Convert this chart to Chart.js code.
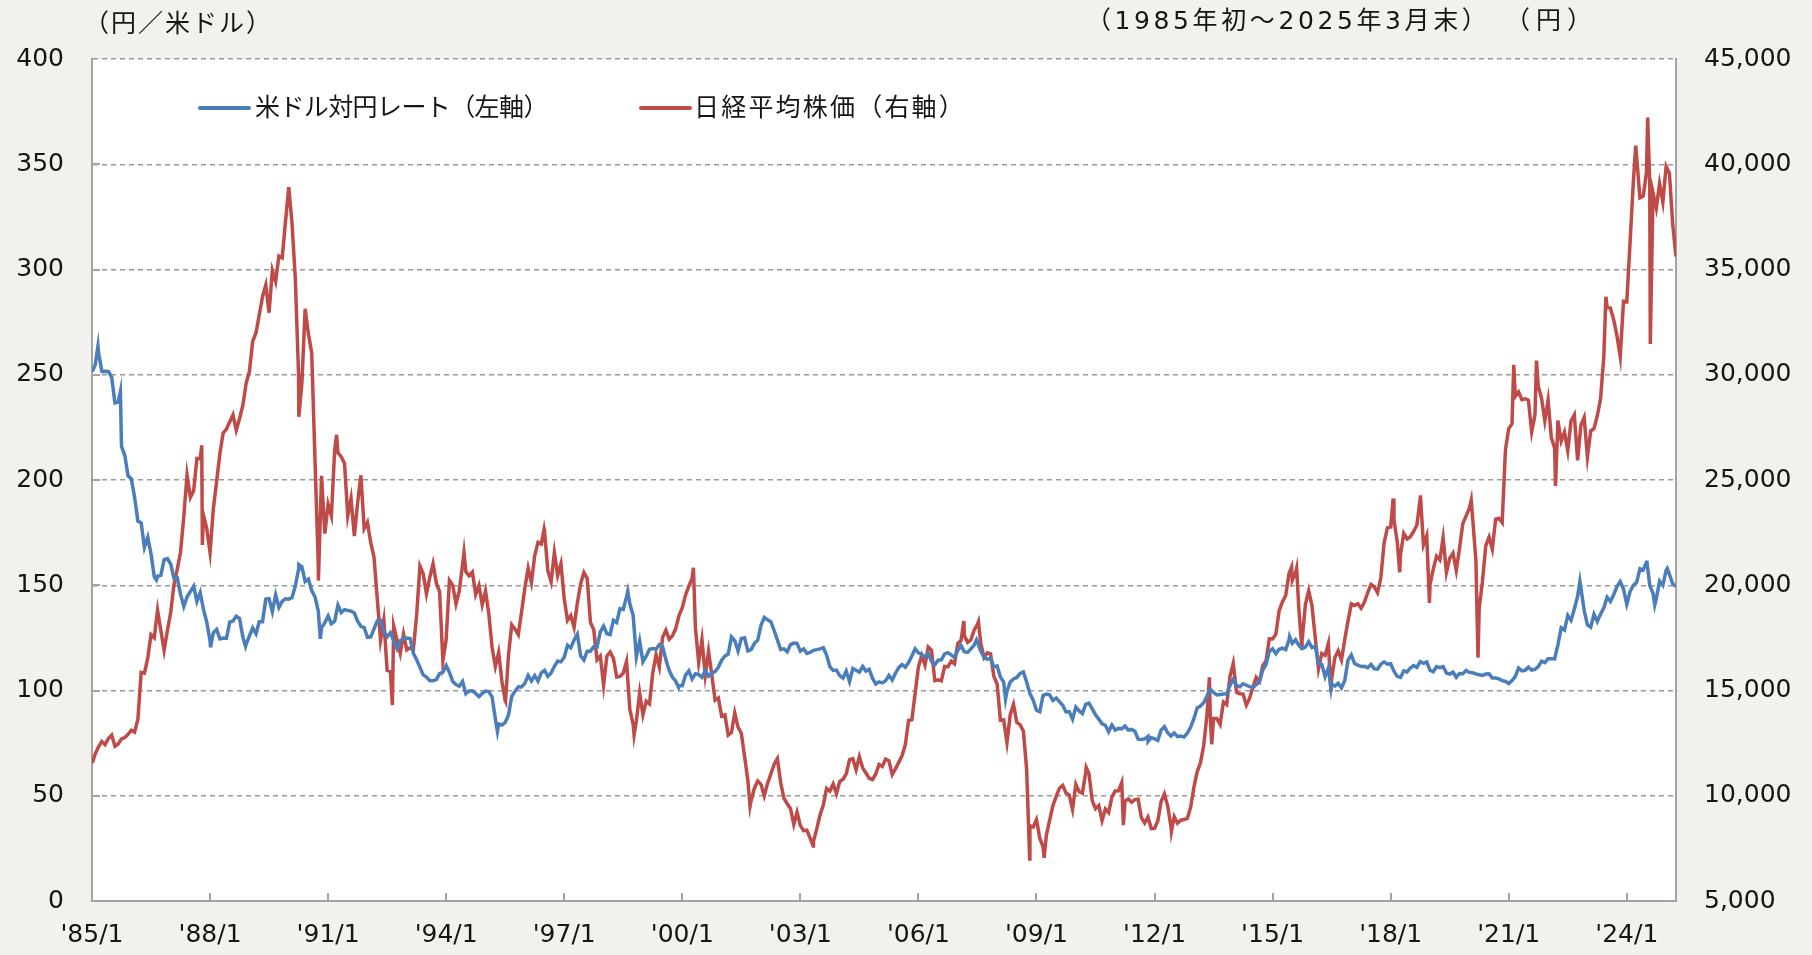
<!DOCTYPE html>
<html lang="ja">
<head>
<meta charset="utf-8">
<script src="https://cdn.jsdelivr.net/npm/chart.js@4.4.1/dist/chart.umd.min.js"></script>
<style>
  html, body { margin: 0; padding: 0; background: #f2f1ed; }
  #wrap { position: relative; width: 1812px; height: 955px; overflow: hidden; }
  #chart { position: absolute; left: 0; top: 0; }
  .txt {
    position: absolute; white-space: nowrap; line-height: 1;
    font-family: "DejaVu Sans", "Noto Sans CJK JP", sans-serif;
    font-size: 25px; color: #151515;
  }
  .sw { position: absolute; height: 4px; border-radius: 2px; }
</style>
</head>
<body>
<div id="wrap">
  <canvas id="chart" width="1812" height="955"></canvas>
  <div class="txt" style="left:84px; top:11px; letter-spacing:2px;">（円／米ドル）</div>
  <div class="txt" style="left:1086px; top:8px; letter-spacing:3.6px;">（1985年初～2025年3月末）</div>
  <div class="txt" style="left:1505px; top:8px; letter-spacing:6px;">（円）</div>
  <div class="sw" style="left:198px; top:106px; width:53px; background:#4a7ebb;"></div>
  <div class="txt" style="left:255px; top:95px; letter-spacing:-0.6px;">米ドル対円レート（左軸）</div>
  <div class="sw" style="left:639px; top:106px; width:53px; background:#be4b48;"></div>
  <div class="txt" style="left:694px; top:95px; letter-spacing:2.2px;">日経平均株価（右軸）</div>
</div>
<script>
// month-end values, 1985/1 .. 2025/3
const usdJpyMonthEnd = [
  254.8,260.5,251.6,251.7,251.6,248.9,236.6,237.1,216.0,211.8,202.0,200.5,
  191.7,180.5,179.6,168.0,172.8,164.9,154.0,154.3,154.7,162.2,162.7,160.1,
  153.4,153.5,145.8,139.9,144.5,147.0,149.6,142.3,146.5,138.5,132.5,123.5,
  127.4,129.0,124.5,124.9,124.8,132.5,133.0,135.3,134.2,125.4,121.9,125.9,
  129.7,127.0,132.7,132.7,143.4,143.6,137.5,145.4,139.4,142.3,143.6,143.4,
  144.2,149.6,157.6,158.8,151.8,152.9,147.5,144.5,137.8,129.8,132.2,135.4,
  131.7,132.9,140.6,137.0,138.4,138.0,137.7,136.8,132.9,130.5,129.9,125.3,
  125.5,129.3,133.1,133.3,127.9,125.5,127.5,123.6,119.9,123.7,124.6,124.9,
  124.7,117.7,114.6,111.0,107.4,106.4,104.6,104.6,105.2,108.0,108.7,111.9,
  108.6,104.3,102.8,102.0,104.3,98.5,99.8,99.9,98.6,97.1,98.6,99.7,
  99.5,97.0,86.5,84.1,83.6,84.8,88.2,97.3,99.7,101.8,101.7,103.4,
  107.2,104.6,107.1,104.5,108.4,109.6,106.7,108.3,111.5,114.0,113.6,115.8,
  121.5,120.3,124.0,126.7,116.5,114.5,118.7,118.7,120.8,120.6,127.8,130.6,
  127.0,126.6,133.3,132.3,138.9,138.5,144.6,141.2,135.8,116.0,123.5,113.6,
  116.3,119.6,119.9,119.6,121.8,120.8,114.6,109.6,106.3,104.4,102.2,102.2,
  107.3,109.4,105.4,108.0,107.6,106.2,109.6,106.8,108.2,109.0,111.0,114.4,
  116.4,117.3,125.5,123.7,118.8,124.7,125.0,118.8,119.4,122.4,123.9,131.0,
  134.7,133.6,132.7,128.5,124.0,119.5,119.8,118.4,121.8,122.5,122.4,118.7,
  119.8,117.6,118.1,119.1,119.4,119.8,120.3,116.8,111.3,109.5,109.7,107.1,
  105.9,109.2,104.2,110.4,109.6,108.7,111.4,109.2,110.1,105.8,103.1,104.1,
  103.6,104.6,107.2,105.0,108.2,110.9,112.3,111.1,113.3,116.4,119.8,117.9,
  117.2,115.9,117.5,113.8,112.2,114.4,114.6,117.4,118.0,116.9,115.7,119.1,
  121.3,118.4,118.1,119.8,121.6,123.2,118.7,115.8,114.8,115.3,111.2,111.7,
  106.4,104.0,99.7,104.0,105.5,106.2,108.1,108.8,104.0,98.5,95.4,90.6,
  89.9,97.6,98.3,98.0,95.3,96.4,94.7,93.0,89.8,90.0,86.4,92.1,
  90.3,89.0,93.4,94.0,91.3,88.5,86.4,84.2,83.5,80.4,83.6,81.2,
  82.0,81.8,83.1,81.2,81.5,80.6,76.9,76.7,77.0,78.2,77.6,77.0,
  76.3,81.2,82.8,80.0,78.4,79.8,78.1,78.4,77.9,79.8,82.5,86.6,
  91.7,92.6,94.2,97.4,100.5,99.1,97.9,98.1,98.3,98.4,102.4,105.3,
  102.3,101.8,103.2,102.5,101.8,101.3,102.8,104.1,109.7,112.3,118.6,119.8,
  117.5,119.6,120.1,119.4,124.1,122.4,124.1,121.4,119.9,120.6,123.2,120.4,
  121.0,112.8,112.4,106.5,110.7,103.2,102.1,103.4,101.2,104.8,114.4,116.9,
  112.8,112.1,111.4,111.5,110.8,112.4,110.3,110.1,112.5,113.6,112.5,112.7,
  109.2,106.7,106.2,109.3,108.8,110.7,111.8,111.0,113.7,112.9,113.5,109.6,
  108.9,111.4,110.9,111.4,108.3,107.8,108.7,106.3,108.1,108.0,109.5,108.6,
  108.4,107.9,107.5,107.2,107.8,107.9,105.9,105.9,105.5,104.7,104.3,103.3,
  104.7,106.6,110.7,109.3,109.6,111.1,109.7,110.0,111.3,113.9,113.2,115.1,
  115.1,115.0,121.7,129.8,128.7,135.7,133.3,138.7,144.7,148.7,138.1,131.1,
  130.1,136.2,132.8,136.3,139.3,144.3,142.3,145.5,149.4,151.7,148.2,141.0,
  147.0,150.0,151.4,157.8,157.3,160.9,150.0,146.2,143.6,152.0,150.0,157.2,
  155.2,150.6,149.5
];

const nikkeiMonthEnd = [
  11992,12322,12580,12426,12723,12882,12355,12461,12700,12762,12914,13113,
  13025,13640,15860,15826,16539,17654,17504,18820,17853,16911,17852,18701,
  20024,20767,21567,23274,25243,24176,24489,26029,26011,23329,22687,21564,
  23622,24916,26260,27234,27417,27769,28090,27366,27924,28541,29579,30159,
  31581,31985,32839,33713,34266,32949,34954,34431,35637,35549,37269,38916,
  37189,34592,29980,29585,33131,31940,31036,25978,20984,25194,22455,23849,
  23293,26409,26292,26111,25790,23291,24121,22336,23916,25222,22688,22984,
  22023,21339,19346,17391,18348,15952,15910,18061,17399,16767,17684,16925,
  17024,16953,18591,20919,20552,19591,20380,21027,20106,19703,16408,17417,
  20229,19997,19112,19725,20974,20644,20449,20629,19564,19990,19076,19723,
  18650,17053,16140,16807,15437,14517,16678,18117,17913,17655,18744,19868,
  20813,20125,21407,22041,21956,22531,20693,20167,21556,20466,21020,19361,
  18330,18557,18003,19151,20069,20605,20331,18229,17888,16459,16636,15259,
  16628,16831,16527,15641,15671,15830,16379,14108,13406,13564,14883,13842,
  14499,14368,15837,16702,16112,17530,17862,17437,17605,17942,18558,18934,
  19540,19960,20337,17974,16332,17411,15727,16861,15747,14540,14649,13786,
  13844,12884,12999,13934,13262,12969,11861,10714,9775,10366,10697,10543,
  9998,10588,11025,11493,11764,10622,9878,9619,9383,8640,9216,8579,
  8340,8363,7973,7831,8425,9083,9563,10344,10219,10560,10101,10677,
  10784,11042,11715,11762,11236,11859,11326,11082,10824,10771,11033,11489,
  11388,11741,11669,11009,11277,11584,11900,12414,13574,13607,14872,16111,
  16650,16205,17060,16906,15467,15505,15457,16141,16128,16399,16274,17226,
  17383,17604,17288,17400,17876,18138,17249,16569,16786,16737,15681,15308,
  13592,13603,12526,13850,14339,13481,13377,13073,11260,8577,8512,8860,
  7994,7568,8110,8828,9523,9958,10357,10493,10133,10035,9346,10546,
  10198,10126,11090,11057,9769,9383,9537,8824,9369,9202,9937,10229,
  10237,10624,9755,9850,9694,9816,9833,8955,8700,8988,8435,8455,
  8803,9723,10084,9521,8543,9007,8695,8840,8870,8928,9446,10395,
  11139,11559,12398,13861,13775,13677,13668,13389,14456,14328,15662,16291,
  14915,14841,14828,14304,14632,15162,15621,15425,16174,16414,17460,17451,
  17674,18798,19207,19520,20563,20236,20585,18890,17388,19083,19747,19034,
  17518,16027,16759,16666,17235,15576,16569,16887,16450,17425,18308,19114,
  19041,19119,18909,19197,19651,20033,19925,19646,20356,22012,22725,22765,
  23098,22068,21454,22468,22202,22305,22554,22865,24120,21920,22351,20015,
  20773,21385,21206,22259,20601,21276,21522,20704,21756,22927,23294,23657,
  23205,21143,18917,20194,21878,22288,21710,23140,23185,22977,26434,27444,
  27663,28966,29179,28813,28860,28792,27284,28090,29453,28893,27822,28792,
  27002,26527,27821,26848,27280,26393,27802,28092,25937,27587,27969,26095,
  27327,27446,28041,28856,30888,33189,33172,32619,31858,30859,33487,33464,
  36287,39166,40369,38406,38488,39583,39102,38648,37920,39081,38208,39895,
  39572,37156,35618
];

// first trading day of 1985
const usdJpyStart = 251.6;
const nikkeiStart = 11558;

// notable intra-month highs / lows
const usdJpyExtremes = [
  ['1985-02-25', 263.6], ['1985-09-20', 242.0], ['1986-08-20', 152.5],
  ['1988-01-04', 120.5], ['1988-11-25', 121.0], ['1990-04-02', 159.8],
  ['1990-10-19', 124.5], ['1995-04-19', 80.6], ['1998-08-11', 147.1],
  ['1999-11-26', 101.5], ['2007-06-22', 124.1], ['2008-03-17', 96.0],
  ['2011-10-31', 75.8], ['2015-06-05', 125.6], ['2016-06-24', 101.0],
  ['2022-10-21', 151.9], ['2024-07-03', 161.7], ['2024-09-16', 140.6],
  ['2025-01-10', 158.0]
];

const nikkeiExtremes = [
  ['1987-10-14', 26646], ['1987-10-20', 21910], ['1990-04-02', 28002],
  ['1990-10-01', 20222], ['1991-03-18', 27146], ['1992-08-18', 14309],
  ['1994-06-13', 21552], ['1995-07-03', 14485], ['1996-06-26', 22666],
  ['1998-10-09', 12879], ['2000-04-12', 20833], ['2001-09-20', 9504],
  ['2003-04-28', 7607], ['2007-02-26', 18300], ['2007-07-09', 18262],
  ['2008-10-28', 6995], ['2009-03-10', 7055], ['2010-04-05', 11339],
  ['2011-03-15', 8605], ['2012-06-04', 8295], ['2013-05-22', 15627],
  ['2013-06-13', 12445], ['2015-06-24', 20868], ['2015-08-10', 20808],
  ['2015-09-29', 16930], ['2016-06-24', 14952], ['2018-01-23', 24124],
  ['2018-03-23', 20617], ['2018-10-02', 24271], ['2018-12-25', 19155],
  ['2020-01-17', 24041], ['2020-03-19', 16552], ['2021-02-16', 30468],
  ['2021-09-14', 30670], ['2022-03-08', 24718], ['2023-06-19', 33706],
  ['2024-03-22', 40888], ['2024-07-11', 42224], ['2024-08-05', 31458]
];

const xTickYears = [1985,1988,1991,1994,1997,2000,2003,2006,2009,2012,2015,2018,2021,2024];
const xTickLabels = ["'85/1","'88/1","'91/1","'94/1","'97/1","'00/1","'03/1","'06/1","'09/1","'12/1","'15/1","'18/1","'21/1","'24/1"];

function toYear(d) {
  const p = d.split('-').map(Number);
  return p[0] + (p[1] - 1) / 12 + p[2] / 365;
}

function buildSeries(start, monthly, extremes) {
  const pts = [{ x: 1985 + 3 / 365, y: start }];
  monthly.forEach((v, i) => pts.push({ x: 1985 + (i + 1) / 12 - 0.0005, y: v }));
  extremes.forEach(e => pts.push({ x: toYear(e[0]), y: e[1] }));
  pts.sort((a, b) => a.x - b.x);
  return pts;
}

const axisGray = '#a3a3a3';

const plotBg = {
  id: 'plotBg',
  beforeDraw(chart) {
    const a = chart.chartArea, ctx = chart.ctx;
    ctx.save();
    ctx.fillStyle = '#ffffff';
    ctx.fillRect(a.left, a.top, a.right - a.left, a.bottom - a.top);
    ctx.restore();
  },
  beforeDatasetsDraw(chart) {
    // inward tick marks
    const a = chart.chartArea, ctx = chart.ctx;
    const xs = chart.scales.x, yl = chart.scales.y;
    ctx.save();
    ctx.strokeStyle = axisGray;
    ctx.lineWidth = 2;
    ctx.beginPath();
    xTickYears.forEach(v => {
      const px = Math.round(xs.getPixelForValue(v));
      ctx.moveTo(px, a.bottom);
      ctx.lineTo(px, a.bottom - 8);
    });
    for (let v = 50; v < 400; v += 50) {
      const py = Math.round(yl.getPixelForValue(v));
      ctx.moveTo(a.left, py);
      ctx.lineTo(a.left + 8, py);
    }
    ctx.stroke();
    ctx.restore();
  }
};

const tickFont = { family: '"DejaVu Sans", Verdana, sans-serif', size: 25 };

new Chart(document.getElementById('chart'), {
  type: 'line',
  data: {
    datasets: [
      {
        label: '米ドル対円レート（左軸）',
        data: buildSeries(usdJpyStart, usdJpyMonthEnd, usdJpyExtremes),
        borderColor: '#4a7ebb',
        borderWidth: 3.5,
        pointRadius: 0,
        yAxisID: 'y'
      },
      {
        label: '日経平均株価（右軸）',
        data: buildSeries(nikkeiStart, nikkeiMonthEnd, nikkeiExtremes),
        borderColor: '#be4b48',
        borderWidth: 3.5,
        pointRadius: 0,
        yAxisID: 'y1'
      }
    ]
  },
  options: {
    responsive: false,
    animation: false,
    events: [],
    layout: { padding: { top: 59, left: 0, right: 0, bottom: 0 } },
    plugins: {
      legend: { display: false },
      tooltip: { enabled: false }
    },
    scales: {
      x: {
        type: 'linear',
        min: 1985,
        max: 2025.25,
        afterBuildTicks(scale) {
          scale.ticks = xTickYears.map(v => ({ value: v }));
        },
        afterFit(scale) { scale.height = 54; },
        grid: { display: false, drawTicks: false },
        border: { display: true, color: axisGray, width: 2 },
        ticks: {
          font: tickFont,
          color: '#151515',
          padding: 19,
          maxRotation: 0,
          autoSkip: false,
          callback(v) {
            const i = xTickYears.indexOf(v);
            return i >= 0 ? xTickLabels[i] : '';
          }
        }
      },
      y: {
        position: 'left',
        min: 0,
        max: 400,
        afterFit(scale) { scale.width = 92; },
        ticks: { stepSize: 50, font: tickFont, color: '#151515', padding: 28 },
        grid: { color: '#9a9a9a', lineWidth: 1.5, drawTicks: false },
        border: { display: true, color: axisGray, width: 2, dash: [5, 4] }
      },
      y1: {
        position: 'right',
        min: 5000,
        max: 45000,
        afterFit(scale) { scale.width = 136; },
        ticks: {
          stepSize: 5000, font: tickFont, color: '#151515', padding: 28,
          callback(v) { return v.toLocaleString('en-US'); }
        },
        grid: { display: false, drawTicks: false },
        border: { display: true, color: axisGray, width: 2 }
      }
    }
  },
  plugins: [plotBg]
});
</script>
</body>
</html>
